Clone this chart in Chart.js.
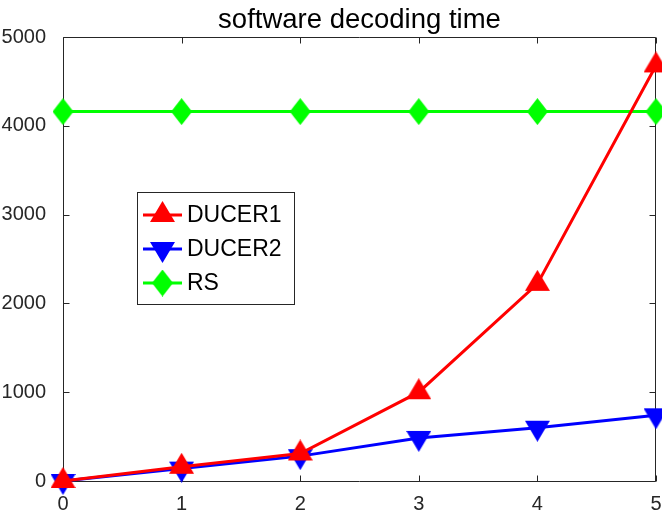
<!DOCTYPE html>
<html>
<head>
<meta charset="utf-8">
<script src="https://cdn.jsdelivr.net/npm/chart.js@4"></script>
<style>
  body { margin: 0; background: #fff; }
</style>
</head>
<body>
<canvas id="myChart" width="662" height="513"></canvas>
<script>
const xValues = [0, 1, 2, 3, 4, 5];
const ducer1 = [0, 160, 310, 1000, 2220, 4680];
const ducer2 = [0, 140, 280, 485, 600, 740];
const rs = [4160, 4160, 4160, 4160, 4160, 4160];
const yTicks = [0, 1000, 2000, 3000, 4000, 5000];
const seriesNames = ['DUCER1', 'DUCER2', 'RS'];

const axisColor = '#262626';
const fontFamily = '"Liberation Sans", Arial, Helvetica, sans-serif';

// marker images, MATLAB style (centred on the centroid)
function makeMarker(kind, color) {
    const c = document.createElement('canvas');
    const ctx = c.getContext('2d');
    if (kind === 'up') {
        c.width = 25; c.height = 28;
        ctx.beginPath();
        ctx.moveTo(12.5, 0); ctx.lineTo(25, 21); ctx.lineTo(0, 21);
    } else if (kind === 'down') {
        c.width = 25; c.height = 28;
        ctx.beginPath();
        ctx.moveTo(0, 7); ctx.lineTo(25, 7); ctx.lineTo(12.5, 28);
    } else {
        c.width = 21; c.height = 27;
        ctx.beginPath();
        ctx.moveTo(10.5, 0); ctx.lineTo(21, 13.5); ctx.lineTo(10.5, 27); ctx.lineTo(0, 13.5);
    }
    ctx.closePath();
    ctx.fillStyle = color;
    ctx.fill();
    return c;
}

const colors = ['#ff0000', '#0000ff', '#00ff00'];
const markers = [makeMarker('up', colors[0]), makeMarker('down', colors[1]), makeMarker('diamond', colors[2])];

function toPoints(arr) {
    return arr.map((v, i) => ({ x: xValues[i], y: v }));
}

// box, inward ticks and title
const frame = {
    id: 'frame',
    beforeDatasetsDraw(chart) {
        const { ctx, chartArea: a, scales } = chart;
        const tl = 6;
        ctx.save();
        ctx.strokeStyle = axisColor;
        ctx.lineWidth = 1;
        ctx.beginPath();
        const L = Math.round(a.left) + 0.5, R = Math.round(a.right) - 0.5;
        const T = Math.round(a.top) + 0.5, B = Math.round(a.bottom) + 0.5;
        ctx.rect(L, T, R - L, B - T);
        xValues.forEach(v => {
            const px = Math.round(scales.x.getPixelForValue(v)) + 0.5;
            ctx.moveTo(px, B); ctx.lineTo(px, B - tl);
            ctx.moveTo(px, T); ctx.lineTo(px, T + tl);
        });
        yTicks.forEach(v => {
            const py = Math.round(scales.y.getPixelForValue(v)) + 0.5;
            ctx.moveTo(L, py); ctx.lineTo(L + tl, py);
            ctx.moveTo(R, py); ctx.lineTo(R - tl, py);
        });
        ctx.stroke();

        ctx.fillStyle = '#000';
        ctx.font = '27.5px ' + fontFamily;
        ctx.textAlign = 'center';
        ctx.textBaseline = 'alphabetic';
        ctx.fillText('software decoding time', (a.left + a.right) / 2, 28);
        ctx.restore();
    }
};

// legend box inside the axes
const boxLegend = {
    id: 'boxLegend',
    afterDatasetsDraw(chart) {
        const { ctx, chartArea: a } = chart;
        const left = Math.round(a.left) + 74, top = Math.round(a.top) + 155;
        const w = 157, h = 112;
        ctx.save();
        ctx.fillStyle = '#fff';
        ctx.fillRect(left, top, w, h);
        ctx.strokeStyle = axisColor;
        ctx.lineWidth = 1;
        ctx.strokeRect(left + 0.5, top + 0.5, w, h);
        ctx.font = '23px ' + fontFamily;
        ctx.textBaseline = 'middle';
        ctx.textAlign = 'left';
        chart.data.datasets.forEach((ds, i) => {
            const cy = top + 23 + i * 34;
            ctx.strokeStyle = ds.borderColor;
            ctx.lineWidth = 3;
            ctx.beginPath();
            ctx.moveTo(left + 6, cy);
            ctx.lineTo(left + 45, cy);
            ctx.stroke();
            const m = ds.pointStyle;
            ctx.drawImage(m, left + 25.5 - m.width / 2, cy - m.height / 2);
            ctx.fillStyle = '#000';
            ctx.fillText(ds.label, left + 50, cy + 1);
        });
        ctx.restore();
    }
};

const ctx = document.getElementById('myChart').getContext('2d');

new Chart(ctx, {
    type: 'line',
    data: {
        datasets: [ducer1, ducer2, rs].map((arr, i) => ({
            label: seriesNames[i],
            data: toPoints(arr),
            borderColor: colors[i],
            backgroundColor: colors[i],
            borderWidth: 3,
            pointStyle: markers[i],
            pointRadius: 10,
            tension: 0,
            clip: false
        }))
    },
    options: {
        responsive: false,
        animation: false,
        layout: { autoPadding: false, padding: { top: 37, right: 6, left: 0, bottom: 0 } },
        plugins: {
            legend: { display: false },
            title: { display: false },
            tooltip: { enabled: false }
        },
        scales: {
            x: {
                type: 'linear',
                min: 0,
                max: 5,
                grid: { display: false },
                border: { display: false },
                afterFit: scale => {
                    scale.height = 32;
                    scale.paddingLeft = 0;
                    scale.paddingRight = 0;
                },
                afterBuildTicks: scale => { scale.ticks = xValues.map(v => ({ value: v })); },
                ticks: {
                    color: axisColor,
                    font: { family: fontFamily, size: 20 },
                    padding: 3,
                    maxRotation: 0,
                    callback: v => String(v)
                }
            },
            y: {
                min: 0,
                max: 5000,
                grid: { display: false },
                border: { display: false },
                afterFit: scale => {
                    scale.width = 63;
                    scale.paddingTop = 0;
                    scale.paddingBottom = 0;
                },
                afterBuildTicks: scale => { scale.ticks = yTicks.map(v => ({ value: v })); },
                ticks: {
                    color: axisColor,
                    font: { family: fontFamily, size: 20 },
                    padding: 9,
                    callback: v => String(v)
                }
            }
        }
    },
    plugins: [frame, boxLegend]
});
</script>
</body>
</html>
